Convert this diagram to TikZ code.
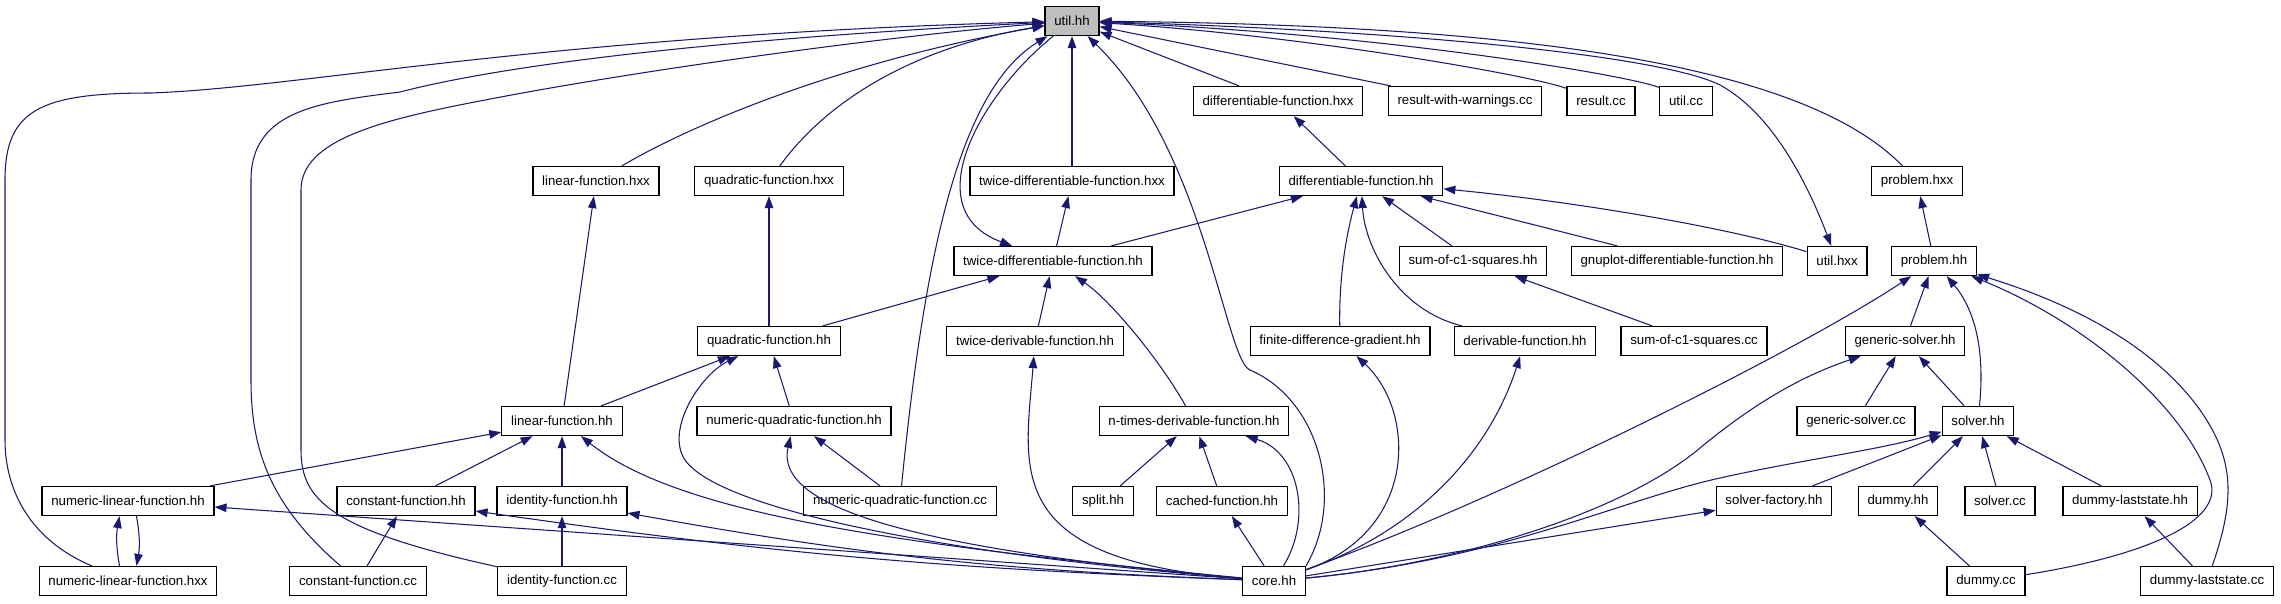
\documentclass[tikz,border=0pt]{standalone}
\usepackage{fontspec}
\setmainfont{Liberation Sans}[Ligatures=CommonOff]
\usepackage{tikz}
\usetikzlibrary{arrows.meta, positioning}
\definecolor{edgeblue}{HTML}{191970}
\definecolor{utilgrey}{HTML}{BFBFBF}

\begin{document}
\begin{tikzpicture}[
  x=0.02cm, y=-0.02cm,
  file/.style={draw, fill=white, line width=0.7pt, minimum height=0.58cm,
               inner xsep=0.185cm, inner ysep=0pt, font=\fontsize{7.55}{9}\selectfont},
  dep/.style={edgeblue, line width=0.6pt, -{Triangle[length=0.24cm, width=0.17cm]}}
]
\useasboundingbox (0,0) rectangle (2281,603);

\node[file, fill=utilgrey] (utilhh) at (1072,21) {util.hh};

\foreach \n/\x/\lbl in {dfhxx/1278/differentiable-function.hxx, rwwcc/1465/result-with-warnings.cc,
  resultcc/1601/result.cc, utilcc/1686/util.cc}
  \node[file] (\n) at (\x,101) {\lbl};

\foreach \n/\x/\lbl in {lfhxx/596/linear-function.hxx, qfhxx/769/quadratic-function.hxx,
  tdfhxx/1072/twice-differentiable-function.hxx, dfhh/1361/differentiable-function.hh,
  problemhxx/1917/problem.hxx}
  \node[file] (\n) at (\x,181) {\lbl};

\foreach \n/\x/\lbl in {tdfhh/1053/twice-differentiable-function.hh, sumhh/1473/sum-of-c1-squares.hh,
  gnuplothh/1677/gnuplot-differentiable-function.hh, utilhxx/1837/util.hxx, problemhh/1934/problem.hh}
  \node[file] (\n) at (\x,261) {\lbl};

\foreach \n/\x/\lbl in {qfhh/769/quadratic-function.hh, tdvhh/1035/twice-derivable-function.hh,
  fdghh/1340/finite-difference-gradient.hh, dvhh/1525/derivable-function.hh,
  sumcc/1694/sum-of-c1-squares.cc, gshh/1905/generic-solver.hh}
  \node[file] (\n) at (\x,341) {\lbl};

\foreach \n/\x/\lbl in {lfhh/562/linear-function.hh, nqfhh/794/numeric-quadratic-function.hh,
  ntdhh/1194/n-times-derivable-function.hh, gscc/1856/generic-solver.cc, solverhh/1978/solver.hh}
  \node[file] (\n) at (\x,421) {\lbl};

\foreach \n/\x/\lbl in {nlfhh/128/numeric-linear-function.hh, cfhh/406/constant-function.hh,
  ifhh/562/identity-function.hh, nqfcc/900/numeric-quadratic-function.cc, splithh/1103/split.hh,
  cachedhh/1222/cached-function.hh, sfhh/1774/solver-factory.hh, dummyhh/1898/dummy.hh,
  solvercc/2000/solver.cc, dlshh/2130/dummy-laststate.hh}
  \node[file] (\n) at (\x,501) {\lbl};

\foreach \n/\x/\lbl in {nlfhxx/128/numeric-linear-function.hxx, cfcc/358/constant-function.cc,
  ifcc/562/identity-function.cc, corehh/1274/core.hh, dummycc/1986/dummy.cc,
  dlscc/2207/dummy-laststate.cc}
  \node[file] (\n) at (\x,581) {\lbl};

% util.hh
\foreach \n in {dfhxx, rwwcc, tdfhxx}
  \draw[dep] (\n) -- (utilhh);
\draw[dep] (resultcc) .. controls (1530,75) and (1300,35) .. (utilhh);
\draw[dep] (utilcc) .. controls (1640,78) and (1400,35) .. (utilhh);
\draw[dep] (problemhxx) .. controls (1800,60) and (1500,25) .. (utilhh);
\draw[dep] (utilhh) .. controls (1400,30) and (1660,55) .. (1720,85)
  .. controls (1775,115) and (1810,190) .. (utilhxx);
\draw[dep] (lfhxx) .. controls (700,120) and (850,60) .. (utilhh);
\draw[dep] (qfhxx) .. controls (820,110) and (900,50) .. (utilhh);
\draw[dep] (nqfcc) .. controls (925,250) and (960,90) .. (utilhh);
\draw[dep] (utilhh) .. controls (980,95) and (915,210) .. (tdfhh);
\draw[dep] (nlfhxx) .. controls (30,540) and (5,490) .. (5,440) -- (5,180)
  .. controls (5,110) and (40,93) .. (150,93) .. controls (300,88) and (550,35) .. (utilhh);
\draw[dep] (cfcc) .. controls (270,505) and (251,450) .. (251,380) -- (251,180)
  .. controls (251,110) and (320,102) .. (400,92) .. controls (500,66) and (700,40) .. (utilhh);
\draw[dep] (ifcc) .. controls (330,530) and (301,500) .. (301,450) -- (301,190)
  .. controls (301,140) and (380,120) .. (485,100) .. controls (650,68) and (900,35) .. (utilhh);
\draw[dep] (corehh.north east) .. controls (1345,500) and (1320,400) .. (1250,370)
  .. controls (1225,360) and (1205,150) .. (utilhh);

% differentiable / twice-differentiable
\draw[dep] (tdfhh) -- (tdfhxx);
\draw[dep] (tdfhh) -- (dfhh);
\draw[dep] (dfhh) -- (dfhxx);
\draw[dep] (sumhh) -- (dfhh);
\draw[dep] (gnuplothh) -- (dfhh);
\draw[dep] (utilhxx) .. controls (1720,225) and (1560,200) .. (dfhh);
\draw[dep] (problemhh) -- (problemhxx);
\draw[dep] (qfhh) -- (tdfhh);
\draw[dep] (qfhh) -- (qfhxx);
\draw[dep] (tdvhh) -- (tdfhh);
\draw[dep] (fdghh) .. controls (1339,280) and (1345,240) .. (dfhh);
\draw[dep] (dvhh) .. controls (1400,311) and (1365,250) .. (dfhh);
\draw[dep] (sumcc) -- (sumhh);
\draw[dep] (gshh) -- (problemhh);
\draw[dep] (ntdhh) .. controls (1160,360) and (1110,300) .. (tdfhh);

% linear / quadratic
\draw[dep] (lfhh) -- (lfhxx);
\draw[dep] (lfhh) -- (qfhh);
\draw[dep] (nqfhh) -- (qfhh);
\draw[dep] (nqfcc) -- (nqfhh);
\foreach \n in {nlfhh, cfhh, ifhh}
  \draw[dep] (\n) -- (lfhh);
\draw[dep] ([xshift=-0.17cm]nlfhxx.north) to[bend left=10] ([xshift=-0.17cm]nlfhh.south);
\draw[dep] ([xshift=0.17cm]nlfhh.south) to[bend left=10] ([xshift=0.17cm]nlfhxx.north);
\draw[dep] (cfcc) -- (cfhh);
\draw[dep] (ifcc) -- (ifhh);
\foreach \n in {splithh, cachedhh}
  \draw[dep] (\n) -- (ntdhh);

% solvers
\draw[dep] (gscc) -- (gshh);
\draw[dep] (solverhh) -- (gshh);
\draw[dep] (solverhh) .. controls (1985,350) and (1975,310) .. (problemhh);
\foreach \n in {sfhh, dummyhh, solvercc, dlshh}
  \draw[dep] (\n) -- (solverhh);
\draw[dep] (dummycc) -- (dummyhh);
\draw[dep] (dlscc) -- (dlshh);
\draw[dep] (dummycc) .. controls (2150,555) and (2225,520) .. (2210,480)
  .. controls (2180,400) and (2080,320) .. (problemhh);
\draw[dep] (dlscc) .. controls (2235,500) and (2235,460) .. (2200,410)
  .. controls (2150,340) and (2060,300) .. (problemhh);

% core.hh
\draw[dep] (corehh) -- (nlfhh);
\draw[dep] (corehh) to[bend left=3] (cfhh);
\draw[dep] (corehh) to[bend left=4] (ifhh);
\draw[dep] (corehh) .. controls (900,545) and (680,515) .. (lfhh);
\draw[dep] (corehh) .. controls (950,555) and (720,510) .. (685,460)
  .. controls (665,430) and (700,375) .. (qfhh);
\draw[dep] (corehh) .. controls (900,548) and (775,505) .. (nqfhh);
\draw[dep] (corehh) .. controls (1000,560) and (1025,470) .. (tdvhh);
\draw[dep] (corehh) .. controls (1312,520) and (1300,452) .. (ntdhh);
\draw[dep] (corehh) -- (cachedhh);
\draw[dep] (corehh) .. controls (1420,530) and (1415,410) .. (fdghh);
\draw[dep] (corehh) .. controls (1420,530) and (1490,450) .. (dvhh);
\draw[dep] (corehh) .. controls (1450,565) and (1620,515) .. (1700,448)
  .. controls (1770,390) and (1820,370) .. (gshh);
\draw[dep] (corehh) .. controls (1500,500) and (1800,350) .. (problemhh);
\draw[dep] (corehh) .. controls (1500,560) and (1620,500) .. (1720,478)
  .. controls (1800,460) and (1880,450) .. (solverhh);
\draw[dep] (corehh) -- (sfhh);

\end{tikzpicture}
\end{document}
